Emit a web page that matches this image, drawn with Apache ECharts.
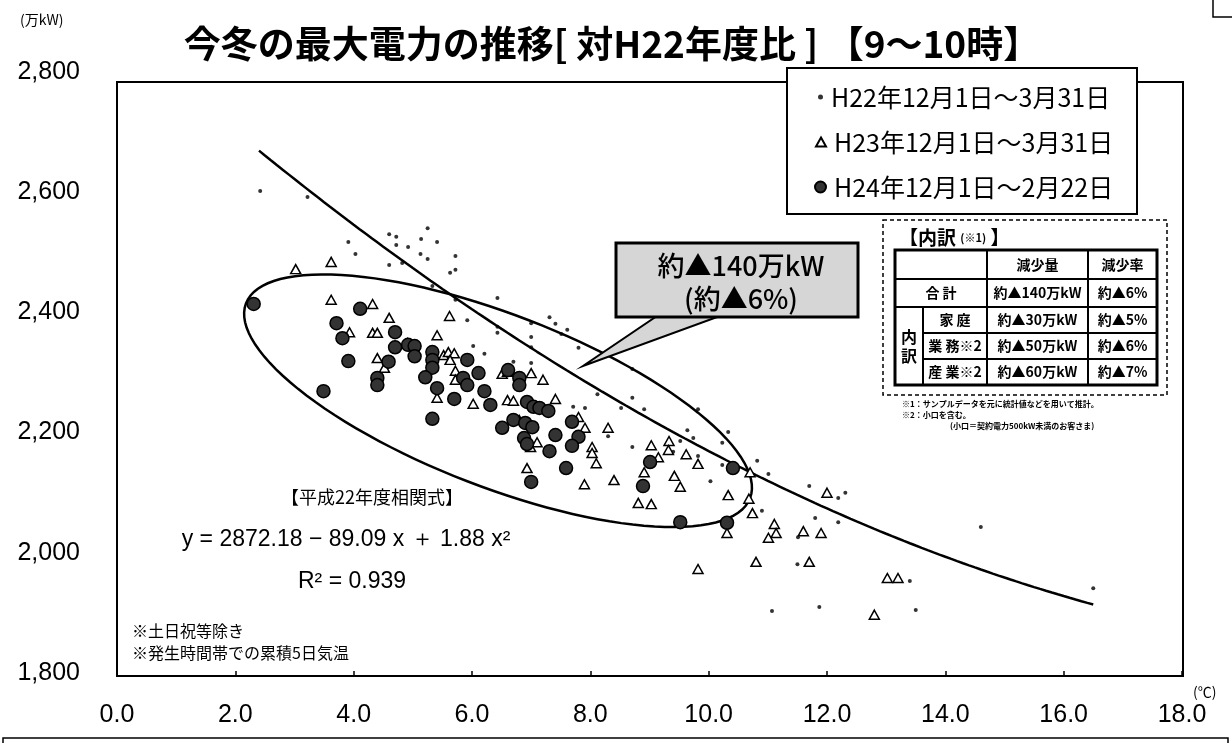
<!DOCTYPE html>
<html>
<head>
<meta charset="utf-8">
<script src="https://cdn.jsdelivr.net/npm/echarts@6/dist/echarts.min.js"></script>
<style>
  html, body { margin: 0; padding: 0; background: #fff; }
  #chart { width: 1232px; height: 743px; }
</style>
</head>
<body>
<div id="chart"></div>
<script>
// Axis ranges (temperature °C on x, peak demand 万kW on y)
const xAxisRange = [0, 18, 2];
const yAxisRange = [1800, 2800, 200];

// Series names
const seriesNames = ['H22年12月1日～3月31日', 'H23年12月1日～3月31日', 'H24年12月1日～2月22日'];

// FY2010 winter: [5-day cumulative temperature, peak demand]
const h22Points = [
  [2.42,2602],[3.22,2592],[3.91,2517],[4.03,2497],[4.60,2530],[4.72,2526],[4.72,2512],[4.92,2509],
  [5.14,2522],[5.25,2540],[5.41,2517],[5.13,2497],[5.25,2489],[4.60,2479],[4.82,2482],[5.72,2494],
  [5.63,2466],[5.72,2471],[5.33,2444],[5.72,2421],[6.43,2424],[5.92,2387],[6.43,2376],[6.43,2366],
  [7.31,2392],[7.41,2381],[7.61,2371],[7.51,2364],[7.00,2382],[7.00,2359],[7.00,2342],[7.80,2341],
  [6.02,2344],[6.70,2318],[6.21,2331],[7.00,2316],[8.12,2264],[8.71,2306],[8.71,2258],[8.52,2241],
  [8.91,2239],[9.82,2239],[9.64,2204],[9.74,2191],[10.33,2201],[10.23,2183],[9.52,2186],[9.40,2168],
  [7.71,2243],[7.91,2241],[8.30,2194],[8.71,2176],[9.82,2161],[10.03,2119],[10.23,2146],[10.82,2153],
  [11.01,2131],[10.90,2070],[11.70,2111],[12.19,2091],[12.31,2100],[11.80,2058],[12.19,2051],[11.51,2026],
  [11.50,1981],[14.60,2043],[13.40,1953],[16.50,1941],[11.07,1903],[11.87,1910],[13.50,1905]
];

// FY2011 winter
const h23Points = [
  [3.02,2472],[3.62,2484],[3.62,2421],[4.32,2414],[4.60,2391],[3.93,2367],[4.32,2366],[4.40,2366],
  [5.41,2362],[5.62,2394],[4.40,2324],[4.52,2308],[4.91,2349],[5.52,2329],[5.60,2334],[5.70,2332],
  [5.63,2321],[5.72,2303],[5.72,2288],[5.41,2258],[6.02,2248],[6.51,2298],[6.60,2301],[6.60,2254],
  [6.70,2253],[7.00,2299],[7.20,2288],[7.41,2256],[6.80,2221],[7.80,2226],[7.91,2208],[7.10,2184],
  [6.99,2176],[6.93,2141],[8.03,2176],[8.03,2166],[8.10,2149],[7.90,2114],[8.40,2121],[8.30,2208],
  [9.03,2179],[9.33,2186],[9.32,2171],[9.62,2164],[9.82,2148],[9.15,2159],[8.91,2134],[9.42,2128],
  [9.52,2110],[8.81,2083],[9.03,2081],[10.33,2096],[10.70,2134],[10.68,2090],[10.74,2066],[10.31,2033],
  [11.11,2048],[11.14,2033],[11.01,2025],[11.60,2036],[11.90,2033],[12.00,2100],[10.80,1985],[11.70,1985],
  [9.82,1973],[13.02,1958],[13.20,1958],[12.80,1897]
];

// FY2012 winter (to 22 Feb)
const h24Points = [
  [2.31,2414],[4.11,2406],[3.71,2382],[3.81,2357],[3.91,2319],[4.40,2291],[4.40,2279],[3.49,2269],
  [4.70,2367],[4.70,2342],[4.92,2346],[5.03,2344],[5.03,2327],[4.59,2318],[5.33,2334],[5.33,2321],
  [5.33,2308],[5.21,2292],[5.41,2274],[5.70,2256],[5.33,2223],[5.92,2321],[6.11,2299],[5.85,2291],
  [5.92,2279],[6.21,2269],[6.31,2246],[6.61,2304],[6.80,2291],[6.80,2279],[6.93,2251],[7.04,2243],
  [7.14,2241],[7.29,2236],[6.70,2221],[6.90,2216],[7.02,2209],[6.51,2208],[6.88,2191],[6.93,2181],
  [7.31,2169],[7.41,2196],[7.69,2218],[7.80,2193],[7.69,2178],[7.59,2141],[7.00,2118],[9.01,2151],
  [8.89,2111],[9.52,2051],[10.31,2050],[10.41,2141]
];

// FY2010 correlation: y = a + b x + c x^2, drawn over the observed temperature span
const fitCoef = [2872.18, -89.09, 1.88];
const fitSpan = [2.4, 16.5];

// Grouping ellipse around the FY2012 cluster (centre, semi-axis vectors, data units)
const ellipseCenter = [6.44, 2253];
const ellipseAxisA = [4.26, -162];
const ellipseAxisB = [-0.52, -134];

// Breakdown table
const tableHeader = ['', '減少量', '減少率'];
const tableRows = [
  ['合 計', '約▲140万kW', '約▲6%'],
  ['家 庭', '約▲30万kW', '約▲5%'],
  ['業 務※2', '約▲50万kW', '約▲6%'],
  ['産 業※2', '約▲60万kW', '約▲7%']
];

const fitLine = [];
for (let t = fitSpan[0]; t <= fitSpan[1] + 1e-9; t += 0.1) {
  const x = +t.toFixed(2);
  fitLine.push([x, fitCoef[0] + fitCoef[1] * x + fitCoef[2] * x * x]);
}

const JP = '"Noto Sans CJK JP", sans-serif';
const LAT = '"Liberation Sans", Arial, sans-serif';

const chart = echarts.init(document.getElementById('chart'), null, { renderer: 'canvas' });

// Breakdown table graphics
const tX = [895, 923, 987, 1088, 1157];
const tY = [250, 279, 307, 333, 359, 385];
const tableEls = [];
tableEls.push({ type: 'rect', shape: { x: 883, y: 220, width: 284, height: 175 },
  style: { fill: '#fff', stroke: '#000', lineWidth: 1.5, lineDash: [4, 3] } });
tableEls.push({ type: 'text', x: 899, y: 238, style: {
  text: '{a|【内訳 }{b|(※1)}{a| 】}', verticalAlign: 'middle',
  rich: { a: { font: 'bold 19px ' + JP, fill: '#000' }, b: { font: 'bold 11px ' + JP, fill: '#000' } } } });
tableEls.push({ type: 'rect', shape: { x: tX[0], y: tY[0], width: tX[4] - tX[0], height: tY[5] - tY[0] },
  style: { fill: 'none', stroke: '#000', lineWidth: 3 } });
[[tX[0], tY[1]], [tX[0], tY[2]], [tX[1], tY[3]], [tX[1], tY[4]]].forEach(([x0, y]) => {
  tableEls.push({ type: 'line', shape: { x1: x0, y1: y, x2: tX[4], y2: y }, style: { stroke: '#000', lineWidth: 2 } });
});
tableEls.push({ type: 'line', shape: { x1: tX[2], y1: tY[0], x2: tX[2], y2: tY[5] }, style: { stroke: '#000', lineWidth: 2 } });
tableEls.push({ type: 'line', shape: { x1: tX[3], y1: tY[0], x2: tX[3], y2: tY[5] }, style: { stroke: '#000', lineWidth: 2 } });
tableEls.push({ type: 'line', shape: { x1: tX[1], y1: tY[2], x2: tX[1], y2: tY[5] }, style: { stroke: '#000', lineWidth: 2 } });
const cellText = (txt, cx, cy) => ({ type: 'text', x: cx, y: cy,
  style: { text: txt, font: 'bold 14px ' + JP, fill: '#000', align: 'center', verticalAlign: 'middle' } });
tableEls.push(cellText(tableHeader[1], (tX[2] + tX[3]) / 2, (tY[0] + tY[1]) / 2));
tableEls.push(cellText(tableHeader[2], (tX[3] + tX[4]) / 2, (tY[0] + tY[1]) / 2));
tableRows.forEach((row, i) => {
  const cy = (tY[i + 1] + tY[i + 2]) / 2;
  const x0 = i === 0 ? tX[0] : tX[1];
  tableEls.push(cellText(row[0], (x0 + tX[2]) / 2, cy));
  tableEls.push(cellText(row[1], (tX[2] + tX[3]) / 2, cy));
  tableEls.push(cellText(row[2], (tX[3] + tX[4]) / 2, cy));
});
tableEls.push({ type: 'text', x: (tX[0] + tX[1]) / 2, y: (tY[2] + tY[5]) / 2,
  style: { text: '内\n訳', font: 'bold 16px ' + JP, lineHeight: 19, fill: '#000', align: 'center', verticalAlign: 'middle' } });
[['※1：サンプルデータを元に統計値などを用いて推計。', 902, 404],
 ['※2：小口を含む。', 902, 415],
 ['(小口＝契約電力500kW未満のお客さま)', 950, 426]].forEach(([t, x, y]) => {
  tableEls.push({ type: 'text', x, y, style: { text: t, font: 'bold 8px ' + JP, fill: '#000', verticalAlign: 'middle' } });
});

// Legend rows (three legends so each marker keeps its own size)
const legendRowY = [97, 142, 187];
const legendIcons = [['circle', 5, 5, 818], ['triangle', 10, 9, 815], ['circle', 11, 11, 814]];

const option = {
  backgroundColor: '#fff',
  animation: false,
  title: {
    text: '今冬の最大電力の推移[ 対H22年度比 ] 【9～10時】',
    left: 607, top: 20, textAlign: 'center',
    textStyle: { fontFamily: JP, fontSize: 37, fontWeight: 'bold', color: '#000' }
  },
  legend: seriesNames.map((name, i) => ({
    data: [name], icon: legendIcons[i][0], itemWidth: legendIcons[i][1], itemHeight: legendIcons[i][2],
    left: legendIcons[i][3], top: legendRowY[i] - 15, orient: 'vertical', itemGap: 0, padding: 0,
    textStyle: { fontFamily: JP, fontSize: 25, lineHeight: 30, color: '#000', padding: [0, 0, 0, 3] }
  })),
  grid: { left: 117, right: 50, top: 72, bottom: 70, show: false, containLabel: false },
  xAxis: {
    type: 'value', min: xAxisRange[0], max: xAxisRange[1], interval: xAxisRange[2], offset: 3,
    axisLine: { show: false },
    axisTick: { show: true, inside: true, length: 5, lineStyle: { color: '#000', width: 1.5 } },
    splitLine: { show: false },
    axisLabel: { margin: 27, color: '#000', fontFamily: LAT, fontSize: 25, formatter: v => v.toFixed(1) }
  },
  yAxis: {
    type: 'value', min: yAxisRange[0], max: yAxisRange[1], interval: yAxisRange[2],
    axisLine: { show: false },
    axisTick: { show: false },
    splitLine: { show: false },
    axisLabel: { margin: 37, color: '#000', fontFamily: LAT, fontSize: 25,
      formatter: v => v.toLocaleString('en-US') }
  },
  series: [
    {
      type: 'custom', name: 'ellipse', silent: true, z: 1,
      data: [ellipseCenter],
      renderItem: (params, api) => {
        const pts = [];
        for (let i = 0; i <= 120; i++) {
          const t = i / 120 * Math.PI * 2;
          const x = ellipseCenter[0] + ellipseAxisA[0] * Math.cos(t) + ellipseAxisB[0] * Math.sin(t);
          const y = ellipseCenter[1] + ellipseAxisA[1] * Math.cos(t) + ellipseAxisB[1] * Math.sin(t);
          pts.push(api.coord([x, y]));
        }
        return { type: 'polygon', shape: { points: pts }, style: { fill: 'none', stroke: '#000', lineWidth: 2.5 } };
      }
    },
    {
      type: 'line', name: 'fit', data: fitLine, showSymbol: false, silent: true, z: 2,
      lineStyle: { color: '#000', width: 2.5 }
    },
    {
      type: 'scatter', name: seriesNames[0], data: h22Points, symbol: 'circle', symbolSize: 4, z: 3,
      itemStyle: { color: '#000' }
    },
    {
      type: 'scatter', name: seriesNames[1], data: h23Points, symbol: 'triangle', symbolSize: [10, 9], z: 4,
      itemStyle: { color: '#fff', borderColor: '#000', borderWidth: 1.5, opacity: 1 }
    },
    {
      type: 'scatter', name: seriesNames[2], data: h24Points, symbol: 'circle', symbolSize: 13, z: 5,
      itemStyle: { color: '#333', borderColor: '#000', borderWidth: 1.5, opacity: 1 }
    }
  ],
  graphic: [
    // plot frame
    { type: 'rect', z: -1, shape: { x: 117, y: 82, width: 1066, height: 594 },
      style: { fill: 'none', stroke: '#000', lineWidth: 2 } },
    // legend frame
    { type: 'rect', z: 0, shape: { x: 787, y: 68, width: 350, height: 146 },
      style: { fill: '#fff', stroke: '#000', lineWidth: 2 } },
    // unit labels
    { type: 'text', x: 20, y: 20, style: { text: '(万kW)', font: '14px ' + JP, fill: '#000', verticalAlign: 'middle' } },
    { type: 'text', x: 1193, y: 692, style: { text: '(℃)', font: '14px ' + JP, fill: '#000', verticalAlign: 'middle' } },
    // correlation formula
    { type: 'text', x: 372, y: 497, style: { text: '【平成22年度相関式】', font: '18px ' + JP, fill: '#000', align: 'center', verticalAlign: 'middle' } },
    { type: 'text', x: 346, y: 540, style: { text: 'y = 2872.18 − 89.09 x ＋ 1.88 x²', font: '23px ' + LAT, fill: '#000', align: 'center', verticalAlign: 'middle' } },
    { type: 'text', x: 352, y: 582, style: { text: 'R² = 0.939', font: '23px ' + LAT, fill: '#000', align: 'center', verticalAlign: 'middle' } },
    { type: 'text', x: 132, y: 631, style: { text: '※土日祝等除き', font: '16px ' + JP, fill: '#000', verticalAlign: 'middle' } },
    { type: 'text', x: 132, y: 653, style: { text: '※発生時間帯での累積5日気温', font: '16px ' + JP, fill: '#000', verticalAlign: 'middle' } },
    // callout
    { type: 'polygon', z: 10, shape: { points: [[657, 316], [720, 316], [583, 366]] },
      style: { fill: '#d6d6d6', stroke: '#000', lineWidth: 2 } },
    { type: 'rect', z: 11, shape: { x: 616, y: 243, width: 242, height: 74 },
      style: { fill: '#d6d6d6', stroke: '#000', lineWidth: 3 } },
    { type: 'text', z: 12, x: 741, y: 266, style: { text: '約▲140万kW', font: '500 27px ' + JP, fill: '#000', align: 'center', verticalAlign: 'middle' } },
    { type: 'text', z: 12, x: 741, y: 299, style: { text: '(約▲6%)', font: '500 27px ' + JP, fill: '#000', align: 'center', verticalAlign: 'middle' } },
    // table
    { type: 'group', z: 10, children: tableEls },
    // page frame marks
    { type: 'polyline', shape: { points: [[3, 743], [3, 738], [1228, 738], [1228, 743]] }, style: { fill: 'none', stroke: '#000', lineWidth: 1.5 } },
    { type: 'polyline', shape: { points: [[1213, 0], [1213, 17], [1232, 17]] }, style: { fill: 'none', stroke: '#000', lineWidth: 1.5 } }
  ]
};
chart.setOption(option);
</script>
</body>
</html>
